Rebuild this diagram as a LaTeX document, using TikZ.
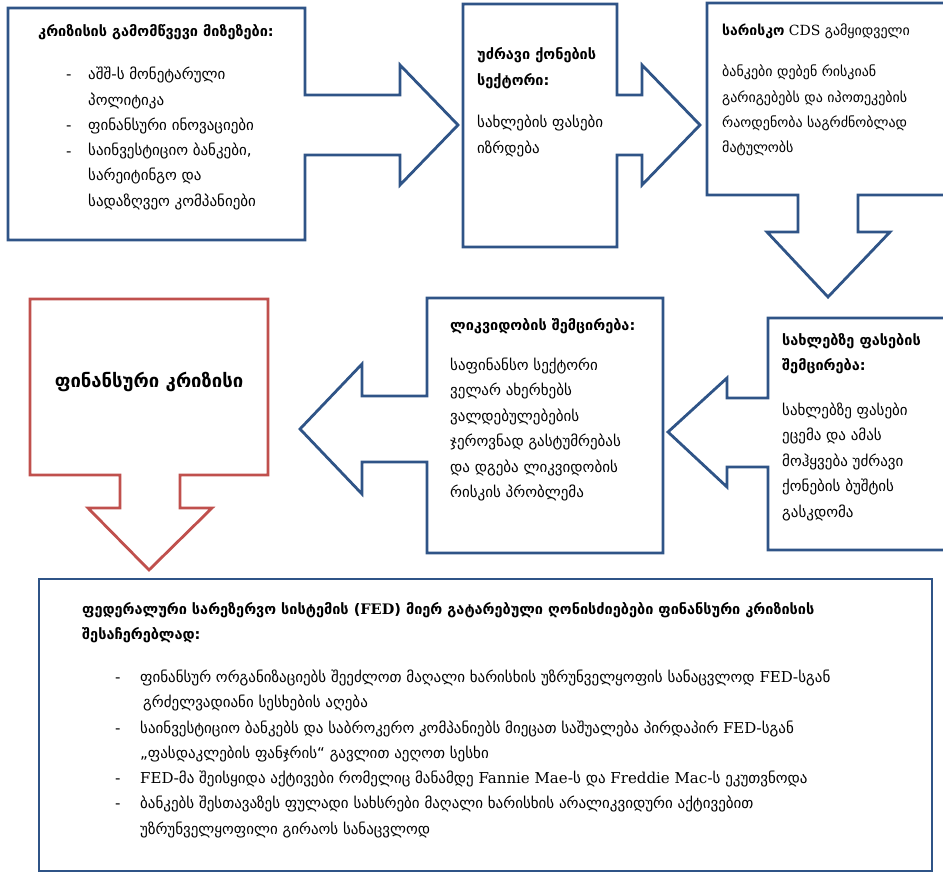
\documentclass[tikz,border=0pt]{standalone}
\usepackage{fontspec}
\setmainfont{DejaVu Sans}
\newfontfamily\latf{DejaVu Serif}
\definecolor{bl}{RGB}{47,84,135}
\definecolor{rd}{RGB}{192,80,77}
\newcommand\fsz{\fontsize{15}{18}\selectfont}
\newcommand\fsm{\fontsize{14}{17}\selectfont}
\newcommand\fsh{\fontsize{14.5}{17}\selectfont\bfseries}
\newcommand\fsbig{\fontsize{18.5}{22}\selectfont\bfseries}
\begin{document}
\begin{tikzpicture}[x=1pt,y=-1pt,
  shp/.style={draw=bl,line width=2.8pt,fill=white,line join=miter},
  rshp/.style={draw=rd,line width=2.8pt,fill=white,line join=miter},
  tx/.style={anchor=base west,inner sep=0pt,font=\fsz},
  txs/.style={anchor=base west,inner sep=0pt,font=\fsm},
  hd/.style={anchor=base west,inner sep=0pt,font=\fsh},
  ctr/.style={anchor=base,inner sep=0pt,font=\fsh}]
\useasboundingbox (0,0) rectangle (943,875);
\begin{scope}
\clip (0,0) rectangle (943,875);
% shape 1
\draw[shp] (8,8) -- (305,8) -- (305,95) -- (400,95) -- (400,65) -- (458,125) -- (400,185) -- (400,155) -- (305,155) -- (305,240) -- (8,240) -- cycle;
% shape 2
\draw[shp] (463,4) -- (617,4) -- (617,95) -- (642,95) -- (642,65) -- (700,125) -- (642,185) -- (642,155) -- (617,155) -- (617,247) -- (463,247) -- cycle;
% shape 3
\draw[shp] (707,3) -- (955,3) -- (955,195) -- (858,195) -- (858,232) -- (890,232) -- (828,297) -- (767,232) -- (798,232) -- (798,195) -- (707,195) -- cycle;
% shape 4
\draw[shp] (955,318) -- (768,318) -- (768,398) -- (727,398) -- (727,378) -- (668,432) -- (727,487) -- (727,467) -- (768,467) -- (768,550) -- (955,550) -- cycle;
% shape 5
\draw[shp] (427,298) -- (663,298) -- (663,553) -- (427,553) -- (427,462) -- (362,462) -- (362,494) -- (300,429) -- (362,364) -- (362,396) -- (427,396) -- cycle;
% shape 6
\draw[rshp] (30,299) -- (268,299) -- (268,475) -- (180,475) -- (180,508) -- (212,508) -- (149,570) -- (88,508) -- (120,508) -- (120,475) -- (30,475) -- cycle;
% shape 7
\draw[shp] (39,579) rectangle (932,871);
\end{scope}

% box 1 text
\node[ctr] (h1) at (156,37) {კრიზისის გამომწვევი მიზეზები:};
\foreach \yy [count=\i] in {80,131,156} \node[tx] (d1\i) at (66,\yy) {-};
\foreach \t [count=\i, evaluate=\i as \yy using 80+25.2*(\i-1)] in {აშშ-ს მონეტარული,პოლიტიკა,ფინანსური ინოვაციები,{საინვესტიციო ბანკები,},სარეიტინგო და,სადაზღვეო კომპანიები}
  \node[tx] (t1\i) at (88,\yy) {\t};

% box 2 text
\node[hd] (h2a) at (477,60) {უძრავი ქონების};
\node[hd] (h2b) at (477,85) {სექტორი:};
\node[tx] (t2a) at (477,128) {სახლების ფასები};
\node[tx] (t2b) at (477,153) {იზრდება};

% box 3 text
\node[txs] (h3) at (722,36) {\textbf{სარისკო} {\latf CDS} გამყიდველი};
\foreach \t [count=\i, evaluate=\i as \yy using 77+25.3*(\i-1)] in {ბანკები დებენ რისკიან,გარიგებებს და იპოთეკების,რაოდენობა საგრძნობლად,მატულობს}
  \node[txs] (t3\i) at (722,\yy) {\t};

% box 4 text
\node[hd] (h4a) at (782,345) {სახლებზე ფასების};
\node[hd] (h4b) at (782,370) {შემცირება:};
\foreach \t [count=\i, evaluate=\i as \yy using 415+25.6*(\i-1)] in {სახლებზე ფასები,ეცემა და ამას,მოჰყვება უძრავი,ქონების ბუშტის,გასკდომა}
  \node[tx] (t4\i) at (782,\yy) {\t};

% box 5 text
\node[hd] (h5) at (450,330) {ლიკვიდობის შემცირება:};
\foreach \t [count=\i, evaluate=\i as \yy using 370+25.5*(\i-1)] in {საფინანსო სექტორი,ველარ ახერხებს,ვალდებულებების,ჯეროვნად გასტუმრებას,და დგება ლიკვიდობის,რისკის პრობლემა}
  \node[tx] (t5\i) at (450,\yy) {\t};

% box 6 text
\node[ctr,font=\fsbig] (h6) at (149,387) {ფინანსური კრიზისი};

% box 7 text
\node[hd] (h7a) at (82,614) {ფედერალური სარეზერვო სისტემის ({\latf FED}) მიერ გატარებული ღონისძიებები ფინანსური კრიზისის};
\node[hd] (h7b) at (82,639) {შესაჩერებლად:};
\foreach \yy [count=\i] in {682,733,783,808} \node[tx] (d7\i) at (115,\yy) {-};
\node[tx] (t71) at (140,682) {ფინანსურ ორგანიზაციებს შეეძლოთ მაღალი ხარისხის უზრუნველყოფის სანაცვლოდ {\latf FED}-სგან};
\node[tx] (t72) at (143,707) {გრძელვადიანი სესხების აღება};
\node[tx] (t73) at (140,733) {საინვესტიციო ბანკებს და საბროკერო კომპანიებს მიეცათ საშუალება პირდაპირ {\latf FED}-სგან};
\node[tx] (t74) at (140,758) {„ფასდაკლების ფანჯრის“ გავლით აეღოთ სესხი};
\node[tx] (t75) at (140,783) {{\latf FED}-მა შეისყიდა აქტივები რომელიც მანამდე {\latf Fannie Mae}-ს და {\latf Freddie Mac}-ს ეკუთვნოდა};
\node[tx] (t76) at (140,808) {ბანკებს შესთავაზეს ფულადი სახსრები მაღალი ხარისხის არალიკვიდური აქტივებით};
\node[tx] (t77) at (140,834) {უზრუნველყოფილი გირაოს სანაცვლოდ};
\end{tikzpicture}
\end{document}
